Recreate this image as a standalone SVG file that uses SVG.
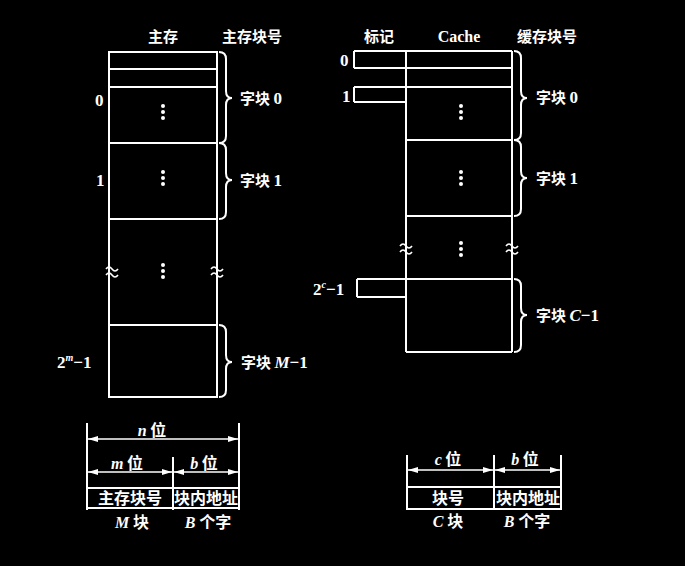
<svg xmlns="http://www.w3.org/2000/svg" width="685" height="566" viewBox="0 0 685 566">
<defs>
<style>
.ln{stroke:#fff;stroke-width:2;fill:none}
.t{fill:#fff;font-family:"Noto Sans CJK SC","Liberation Serif",serif;font-size:15px;font-weight:bold}
.b{font-size:16px}
.n{fill:#fff;font-family:"Liberation Serif",serif;font-size:17px;font-weight:bold}
.i{font-style:italic;font-family:"Liberation Serif",serif}
.dot{fill:#fff}
</style>
<marker id="ah" viewBox="0 0 10 6" refX="10" refY="3" markerWidth="10" markerHeight="6" orient="auto-start-reverse" markerUnits="userSpaceOnUse">
<path d="M0,0 L10,3 L0,6 Z" fill="#fff"/>
</marker>
<g id="dots"><circle cx="0" cy="0" r="2" class="dot"/><circle cx="0" cy="6" r="2" class="dot"/><circle cx="0" cy="12" r="2" class="dot"/></g>
<path id="brk" d="M-6,-2 q3,-4 6,0 t6,0 M-6,4 q3,-4 6,0 t6,0" class="ln" style="stroke-width:1.6"/>
</defs>
<rect width="685" height="566" fill="#000"/>

<g id="main-memory">
<text class="t" x="148" y="42">主存</text>
<text class="t" x="222" y="42">主存块号</text>
<rect class="ln" x="109" y="52" width="108" height="345"/>
<line class="ln" x1="109" y1="69" x2="217" y2="69"/>
<line class="ln" x1="109" y1="87" x2="217" y2="87"/>
<line class="ln" x1="109" y1="143" x2="217" y2="143"/>
<line class="ln" x1="109" y1="219" x2="217" y2="219"/>
<line class="ln" x1="109" y1="325" x2="217" y2="325"/>
<use href="#dots" x="163" y="106"/>
<use href="#dots" x="163" y="172"/>
<use href="#dots" x="163" y="265"/>
<use href="#brk" x="112" y="271"/>
<use href="#brk" x="217" y="271"/>
<text class="n" x="95" y="106">0</text>
<text class="n" x="96" y="186">1</text>
<text class="n" x="57" y="368">2<tspan font-size="10" dy="-7" class="i">m</tspan><tspan dy="7">−1</tspan></text>
</g>

<g id="main-braces">
<path class="ln" d="M219,52 q7,0 7,7 V91 q0,7 6,7 q-6,0 -6,7 V136 q0,7 -7,7"/>
<text class="t" x="240" y="104">字块 <tspan class="n">0</tspan></text>
<path class="ln" d="M219,143 q7,0 7,7 V173 q0,7 6,7 q-6,0 -6,7 V212 q0,7 -7,7"/>
<text class="t" x="240" y="186">字块 <tspan class="n">1</tspan></text>
<path class="ln" d="M219,325 q7,0 7,7 V355 q0,7 6,7 q-6,0 -6,7 V390 q0,7 -7,7"/>
<text class="t" x="241" y="368">字块 <tspan class="n"><tspan class="i">M</tspan>−1</tspan></text>
</g>

<g id="cache">
<text class="t" x="364" y="42">标记</text>
<text class="n" x="459" y="42" text-anchor="middle" style="font-size:16px">Cache</text>
<text class="t" x="517" y="42">缓存块号</text>
<line class="ln" x1="354" y1="51" x2="512" y2="51"/>
<line class="ln" x1="354" y1="68" x2="512" y2="68"/>
<line class="ln" x1="354" y1="51" x2="354" y2="68"/>
<line class="ln" x1="354" y1="87" x2="512" y2="87"/>
<line class="ln" x1="354" y1="102" x2="406" y2="102"/>
<line class="ln" x1="354" y1="87" x2="354" y2="102"/>
<line class="ln" x1="406" y1="51" x2="406" y2="352"/>
<line class="ln" x1="512" y1="51" x2="512" y2="352"/>
<line class="ln" x1="406" y1="140" x2="512" y2="140"/>
<line class="ln" x1="406" y1="216" x2="512" y2="216"/>
<line class="ln" x1="357" y1="279" x2="512" y2="279"/>
<line class="ln" x1="357" y1="297" x2="406" y2="297"/>
<line class="ln" x1="357" y1="279" x2="357" y2="297"/>
<line class="ln" x1="406" y1="352" x2="512" y2="352"/>
<use href="#dots" x="461" y="106"/>
<use href="#dots" x="461" y="172"/>
<use href="#dots" x="461" y="243"/>
<use href="#brk" x="406" y="248"/>
<use href="#brk" x="512" y="248"/>
<text class="n" x="340" y="66">0</text>
<text class="n" x="342" y="102">1</text>
<text class="n" x="313" y="295">2<tspan font-size="10" dy="-7" class="i">c</tspan><tspan dy="7">−1</tspan></text>
</g>

<g id="cache-braces">
<path class="ln" d="M514,51 q7,0 7,7 V91 q0,7 6,7 q-6,0 -6,7 V133 q0,7 -7,7"/>
<text class="t" x="536" y="103">字块 <tspan class="n">0</tspan></text>
<path class="ln" d="M514,140 q7,0 7,7 V171 q0,7 6,7 q-6,0 -6,7 V209 q0,7 -7,7"/>
<text class="t" x="536" y="184">字块 <tspan class="n">1</tspan></text>
<path class="ln" d="M514,279 q7,0 7,7 V308 q0,7 6,7 q-6,0 -6,7 V345 q0,7 -7,7"/>
<text class="t" x="536" y="321">字块 <tspan class="n"><tspan class="i">C</tspan>−1</tspan></text>
</g>

<g id="main-address">
<line class="ln" x1="87" y1="423" x2="87" y2="510"/>
<line class="ln" x1="239" y1="423" x2="239" y2="510"/>
<line class="ln" x1="173" y1="457" x2="173" y2="510"/>
<line class="ln" x1="87" y1="488" x2="239" y2="488"/>
<line class="ln" x1="87" y1="508" x2="239" y2="508"/>
<text class="t b" x="152" y="436" text-anchor="middle"><tspan class="i">n</tspan> 位</text>
<text class="t b" x="127" y="469" text-anchor="middle"><tspan class="i">m</tspan> 位</text>
<text class="t b" x="204" y="469" text-anchor="middle"><tspan class="i">b</tspan> 位</text>
<text class="t b" x="130" y="504" text-anchor="middle">主存块号</text>
<text class="t b" x="206" y="504" text-anchor="middle">块内地址</text>
<text class="t b" x="132" y="528" text-anchor="middle"><tspan class="i">M</tspan> 块</text>
<text class="t b" x="208" y="528" text-anchor="middle"><tspan class="i">B</tspan> 个字</text>
</g>

<g id="cache-address">
<line class="ln" x1="407" y1="455" x2="407" y2="510"/>
<line class="ln" x1="494" y1="455" x2="494" y2="510"/>
<line class="ln" x1="561" y1="455" x2="561" y2="510"/>
<line class="ln" x1="407" y1="487" x2="561" y2="487"/>
<line class="ln" x1="407" y1="509" x2="561" y2="509"/>
<text class="t b" x="448" y="465" text-anchor="middle"><tspan class="i">c</tspan> 位</text>
<text class="t b" x="525" y="465" text-anchor="middle"><tspan class="i">b</tspan> 位</text>
<text class="t b" x="448" y="504" text-anchor="middle">块号</text>
<text class="t b" x="528" y="504" text-anchor="middle">块内地址</text>
<text class="t b" x="448" y="527" text-anchor="middle"><tspan class="i">C</tspan> 块</text>
<text class="t b" x="527" y="527" text-anchor="middle"><tspan class="i">B</tspan> 个字</text>
</g>

<g id="connectors">
<line class="ln" style="stroke-width:1.5" x1="88" y1="439" x2="238" y2="439" marker-start="url(#ah)" marker-end="url(#ah)"/>
<line class="ln" style="stroke-width:1.5" x1="88" y1="472" x2="172" y2="472" marker-start="url(#ah)" marker-end="url(#ah)"/>
<line class="ln" style="stroke-width:1.5" x1="174" y1="472" x2="238" y2="472" marker-start="url(#ah)" marker-end="url(#ah)"/>
<line class="ln" style="stroke-width:1.5" x1="408" y1="470" x2="493" y2="470" marker-start="url(#ah)" marker-end="url(#ah)"/>
<line class="ln" style="stroke-width:1.5" x1="495" y1="470" x2="560" y2="470" marker-start="url(#ah)" marker-end="url(#ah)"/>
</g>
</svg>
